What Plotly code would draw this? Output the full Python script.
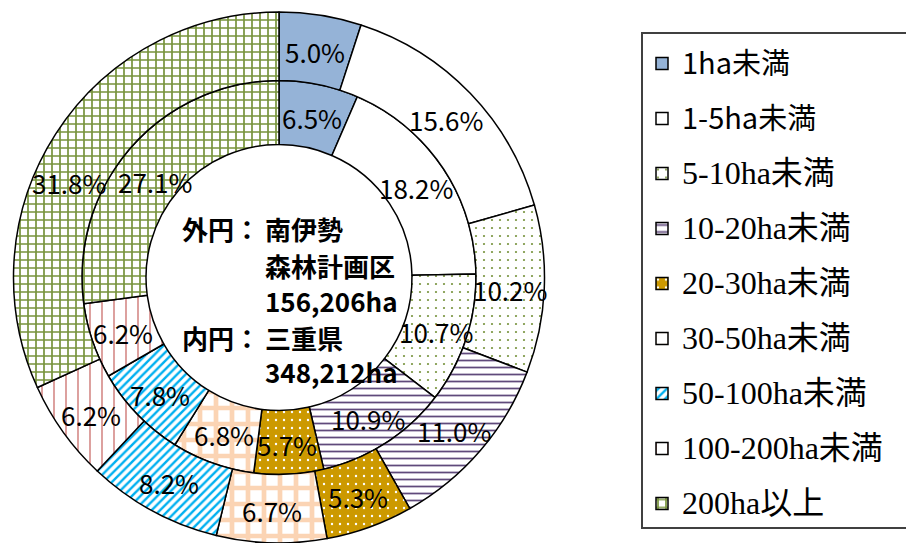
import math
import plotly.graph_objects as go

# ---- data ----
categories = ["1ha未満", "1-5ha未満", "5-10ha未満", "10-20ha未満", "20-30ha未満",
              "30-50ha未満", "50-100ha未満", "100-200ha未満", "200ha以上"]
outer_pct = [5.0, 15.6, 10.2, 11.0, 5.3, 6.7, 8.2, 6.2, 31.8]   # 南伊勢森林計画区
inner_pct = [6.5, 18.2, 10.7, 10.9, 5.7, 6.8, 7.8, 6.2, 27.1]   # 三重県

# ---- styles ----
fill_bg = ["#95B3D7", "#FFFFFF", "#FFFFFF", "#FFFFFF", "#CC9900",
           "#FFFFFF", "#FFFFFF", "#FFFFFF", "#FFFFFF"]
pat_shape = ["", "", ".", "-", ".", "+", "/", "|", "+"]
pat_fg = ["#95B3D7", "#FFFFFF", "#77933C", "#604A7B", "#FFFFFF",
          "#FBD4B4", "#00B0F0", "#D99694", "#77933C"]
pat_size = [8, 8, 8, 7, 8, 16, 6, 12, 8]
pat_sol = [0.2, 0.2, 0.06, 0.25, 0.07, 0.5, 0.4, 0.15, 0.38]

# label placement tweaks (degrees, px) for the two large slices, as in the original
outer_lab_adj = [(0, 0)] * 8 + [(-8, 0)]
inner_lab_adj = [(0, 0)] * 8 + [(-3, -7)]

gothic = "Noto Sans CJK JP"
serif = "Liberation Serif, Noto Sans CJK JP"
legend_labels = []
for i, c in enumerate(categories):
    fam, fs = (gothic, 29) if i < 2 else (serif, 32)
    legend_labels.append(
        f'<span style="font-family:{fam};font-size:{fs}px;baseline-shift:5px">{c}</span>')


def fmt(v):
    return f"{v:.1f}%"


W, H = 906, 543
cx, cy = 279, 277.5
r_out, r_mid, r_in = 265.5, 197.0, 133.0


def dom(r):
    return dict(x=[(cx - r) / W, (cx + r) / W],
                y=[max(0, 1 - (cy + r) / H), 1 - (cy - r) / H])


marker_common = dict(
    colors=fill_bg,
    line=dict(color="black", width=1.5),
    pattern=dict(shape=pat_shape, fgcolor=pat_fg, bgcolor=fill_bg,
                 size=pat_size, solidity=pat_sol, fillmode="replace"),
)

fig = go.Figure()
fig.add_trace(go.Pie(
    labels=legend_labels, values=inner_pct, text=[fmt(v) for v in inner_pct],
    textinfo="none", sort=False, direction="clockwise", rotation=0,
    hole=r_in / r_mid, domain=dom(r_mid), marker=marker_common,
    name="三重県", hoverinfo="label+text",
))
fig.add_trace(go.Pie(
    labels=legend_labels, values=outer_pct, text=[fmt(v) for v in outer_pct],
    textinfo="none", sort=False, direction="clockwise", rotation=0,
    hole=r_mid / r_out, domain=dom(r_out), marker=marker_common,
    name="南伊勢", hoverinfo="label+text",
))


# data labels: at the middle angle of each slice, mid-radius of its ring
def add_ring_labels(vals, r_lab, adj):
    total = sum(vals)
    cum = 0.0
    for v, (da, dr) in zip(vals, adj):
        ang = 2 * math.pi * (cum + v / 2) / total + math.radians(da)
        cum += v
        r = r_lab + dr
        px = cx + r * math.sin(ang)
        py = cy - r * math.cos(ang)
        fig.add_annotation(text=fmt(v), x=px / W, y=1 - (py + 2) / H,
                           xref="paper", yref="paper", xanchor="center", yanchor="middle",
                           showarrow=False,
                           font=dict(family=gothic, size=26, color="black"))


add_ring_labels(inner_pct, (r_in + r_mid) / 2, inner_lab_adj)
add_ring_labels(outer_pct, (r_mid + r_out) / 2, outer_lab_adj)

center_lines = [
    ("外円：", 180, 229),
    ("南伊勢", 263, 229),
    ("森林計画区", 263, 265),
    ("156,206ha", 263, 300),
    ("内円：", 180, 337),
    ("三重県", 263, 337),
    ("348,212ha", 263, 371),
]
for txt, px, py in center_lines:
    fig.add_annotation(text=f"<b>{txt}</b>", x=px / W, y=1 - py / H,
                       xref="paper", yref="paper", xanchor="left", yanchor="middle",
                       showarrow=False, font=dict(family=gothic, size=26, color="black"))

# legend frame
fig.add_shape(type="rect", xref="paper", yref="paper",
              x0=642 / W, x1=1.02, y0=1 - 528 / H, y1=1 - 33 / H,
              line=dict(color="#404040", width=2), fillcolor="rgba(0,0,0,0)", layer="above")

fig.update_layout(
    width=W, height=H,
    margin=dict(l=0, r=0, t=0, b=0, pad=0),
    paper_bgcolor="white", plot_bgcolor="white",
    legend=dict(x=642 / W, y=1 - 31 / H, xanchor="left", yanchor="top",
                bgcolor="rgba(0,0,0,0)", borderwidth=0,
                font=dict(family=gothic, size=40, color="black"),
                traceorder="normal"),
    showlegend=True,
)

fig.write_html("out.html", config={"displayModeBar": False},
               post_script="document.body.style.margin='0';")
